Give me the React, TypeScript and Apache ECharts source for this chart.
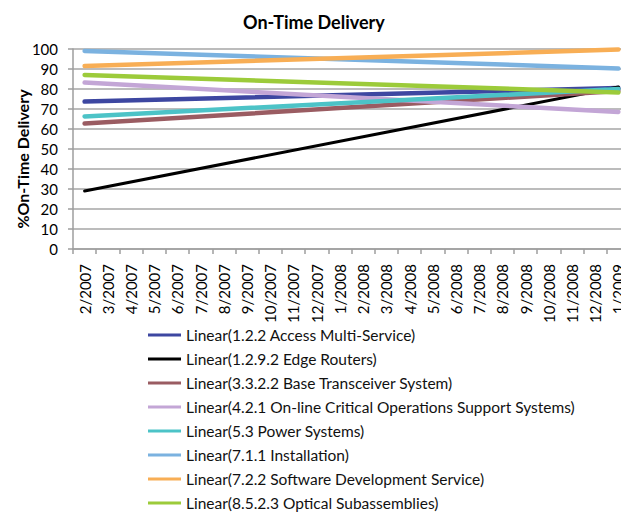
import React, { useEffect, useRef } from "react";
import * as echarts from "echarts";

const categories = [
  "2/2007", "3/2007", "4/2007", "5/2007", "6/2007", "7/2007", "8/2007", "9/2007",
  "10/2007", "11/2007", "12/2007", "1/2008", "2/2008", "3/2008", "4/2008", "5/2008",
  "6/2008", "7/2008", "8/2008", "9/2008", "10/2008", "11/2008", "12/2008", "1/2009",
];

const seriesNames = [
  "Linear(1.2.2 Access Multi-Service)",
  "Linear(1.2.9.2 Edge Routers)",
  "Linear(3.3.2.2 Base Transceiver System)",
  "Linear(4.2.1 On-line Critical Operations Support Systems)",
  "Linear(5.3 Power Systems)",
  "Linear(7.1.1 Installation)",
  "Linear(7.2.2 Software Development Service)",
  "Linear(8.5.2.3 Optical Subassemblies)",
];

// trend line value at the first category (2/2007)
const startValues = [73.7, 29, 62.7, 83.2, 66.3, 99, 91.5, 87];
// trend line value at the last category (1/2009)
const endValues = [80.5, 81, 79, 68.5, 80, 90.3, 99.7, 78.3];

const colors = ["#3D47A1", "#000000", "#9A5C62", "#C3A6D6", "#4CC3C7", "#7BB2E0", "#F8AE55", "#9CCB3A"];
const widths = [4.5, 3, 4.5, 4.5, 4.5, 4.5, 4.5, 4.5];

const yTicks = [0, 10, 20, 30, 40, 50, 60, 70, 80, 90, 100];

export default function App() {
  const ref = useRef<HTMLDivElement>(null);
  useEffect(() => {
    if (!ref.current) return;
    const chart = echarts.init(ref.current, null, { renderer: "svg" });
    const font = "Lato, 'Noto Sans', sans-serif";
    const series = seriesNames.map((name, i) => {
      const data: (number | null)[] = categories.map(() => null);
      data[0] = startValues[i];
      data[categories.length - 1] = endValues[i];
      return {
        name,
        type: "line",
        data,
        connectNulls: true,
        showSymbol: false,
        symbol: "none",
        lineStyle: { color: colors[i], width: widths[i], cap: "round" },
        itemStyle: { color: colors[i] },
      };
    });
    chart.setOption({
      animation: false,
      backgroundColor: "#ffffff",
      title: {
        text: "On-Time Delivery",
        left: 238,
        top: 8,
        textStyle: { fontFamily: font, fontSize: 18, fontWeight: "bold", color: "#000" },
      },
      graphic: [
        {
          type: "text",
          x: 22,
          y: 159,
          rotation: Math.PI / 2,
          style: {
            text: "%On-Time Delivery",
            fontFamily: font,
            fontSize: 16,
            fontWeight: "bold",
            fill: "#000",
            align: "center",
            verticalAlign: "middle",
          },
        },
      ],
      grid: { left: 73, top: 49, width: 557, height: 200, containLabel: false },
      xAxis: {
        type: "category",
        data: categories,
        boundaryGap: true,
        axisLine: { lineStyle: { color: "#9E9E9E", width: 1.5 } },
        axisTick: { show: true, length: 5, alignWithLabel: false, lineStyle: { color: "#9E9E9E", width: 1.5 } },
        axisLabel: {
          rotate: 90,
          interval: 0,
          margin: 15,
          fontFamily: font,
          fontSize: 15,
          color: "#000",
        },
        splitLine: { show: false },
      },
      yAxis: {
        type: "value",
        min: yTicks[0],
        max: yTicks[yTicks.length - 1],
        interval: 10,
        axisLine: { show: true, lineStyle: { color: "#9E9E9E", width: 1.5 } },
        axisTick: { show: true, length: 5, lineStyle: { color: "#9E9E9E", width: 1.5 } },
        axisLabel: { margin: 15, fontFamily: font, fontSize: 15, color: "#000" },
        splitLine: { show: true, lineStyle: { color: "#A6A6A6", width: 1.5 } },
      },
      legend: {
        orient: "vertical",
        left: 148,
        top: 326,
        height: 260,
        padding: 0,
        icon: "rect",
        itemWidth: 33,
        itemHeight: 3,
        itemGap: 6,
        textStyle: { fontFamily: font, fontSize: 15.5, color: "#111", lineHeight: 18 },
        data: seriesNames,
      },
      series,
    });
    return () => chart.dispose();
  }, []);
  return (
    <div style={{ position: "fixed", left: 0, top: 0, width: 621, height: 513, overflow: "hidden", background: "#fff" }}>
      <div ref={ref} style={{ width: 640, height: 513, position: "absolute", left: 0, top: 0 }} />
    </div>
  );
}
